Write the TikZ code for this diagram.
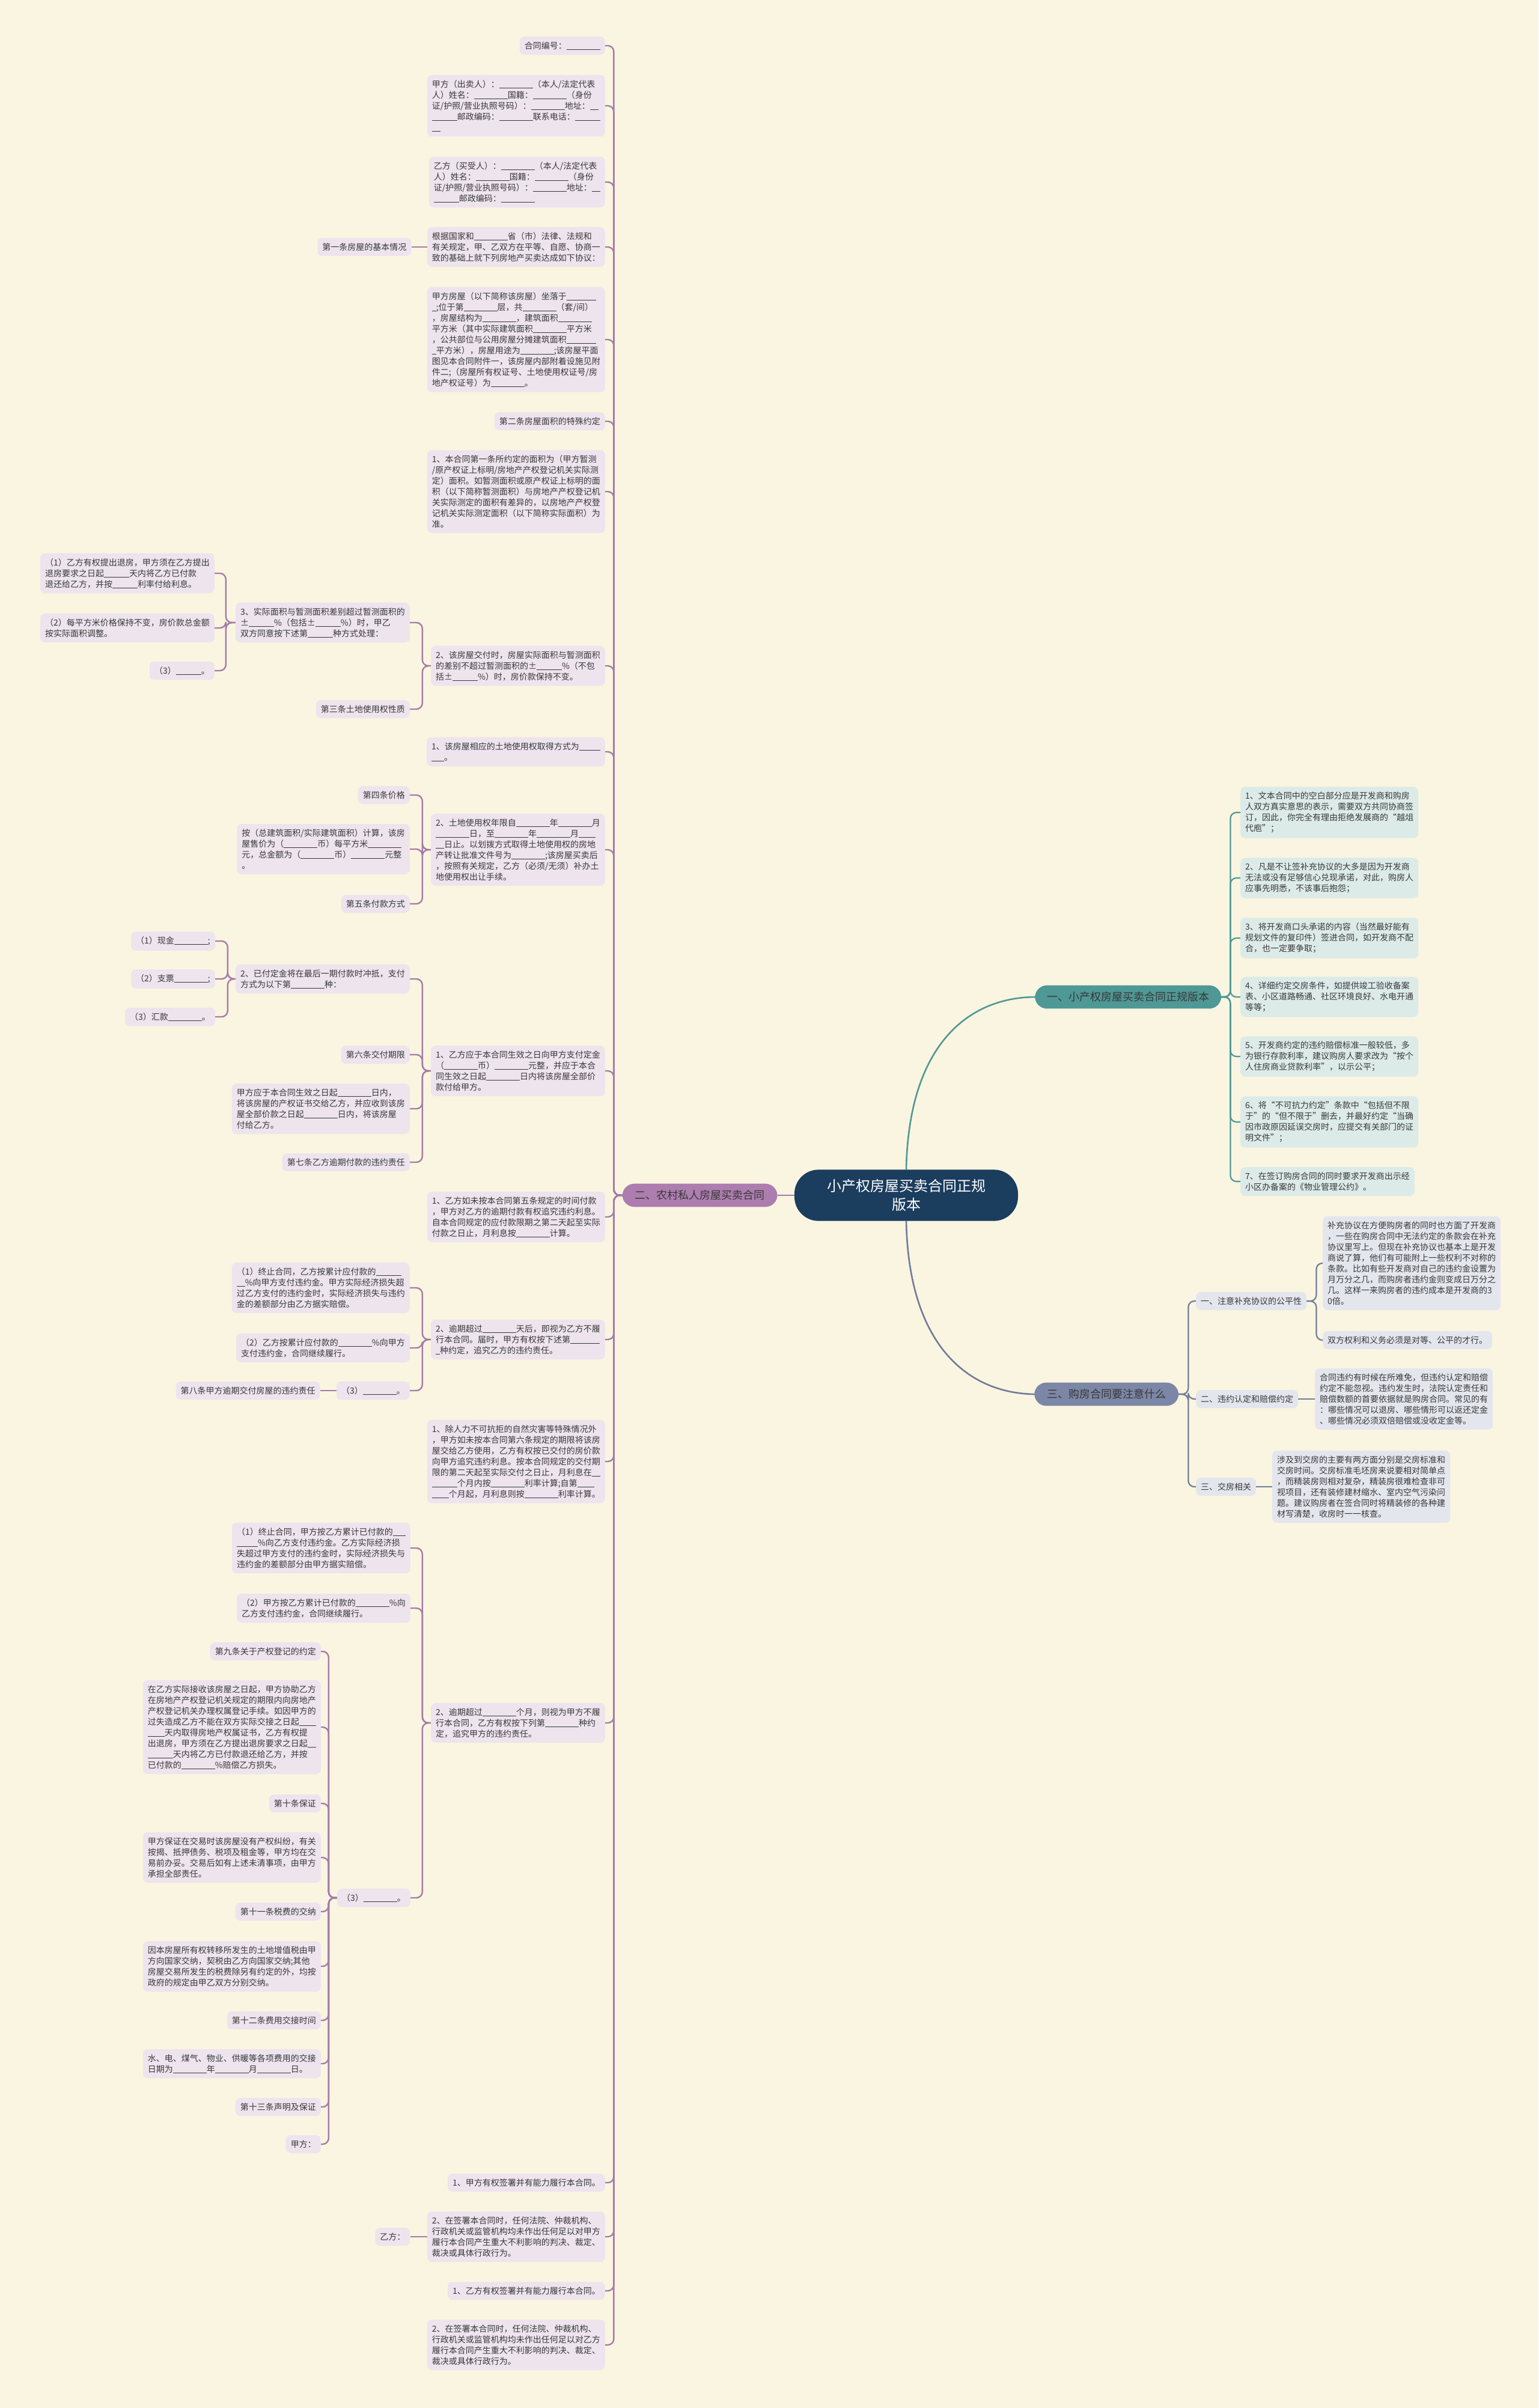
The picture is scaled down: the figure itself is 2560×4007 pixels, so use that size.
\documentclass[tikz,border=0pt]{standalone}
\usepackage{fontspec}
\setmainfont{Noto Sans CJK SC}
\usepackage{xcolor}
\usepackage{tikz}
\usetikzlibrary{positioning}

\definecolor{bgcream}{HTML}{FAF5E0}
\definecolor{rootblue}{HTML}{1B3D5E}
\definecolor{plum}{HTML}{AD7DAF}
\definecolor{plumline}{HTML}{A57BA8}
\definecolor{plumleaf}{HTML}{EDE4EE}
\definecolor{teal}{HTML}{4E9896}
\definecolor{tealleaf}{HTML}{DCEBE8}
\definecolor{slate}{HTML}{7C86A6}
\definecolor{slateline}{HTML}{6F7B98}
\definecolor{slateleaf}{HTML}{E4E6EE}
\definecolor{inkgray}{HTML}{383838}

% blank to be filled in
\newcommand{\bk}[1]{\rule[-0.12em]{#1em}{0.07em}}

\begin{document}
\begin{tikzpicture}[
    x=1pt, y=-1pt,
    root/.style={rectangle, rounded corners=40pt, fill=rootblue, text=white, align=center, inner xsep=54pt, inner ysep=16pt, font={\fontsize{24}{31}\selectfont}},
    branch/.style={rectangle, rounded corners=20pt, text=inkgray, align=center, inner xsep=21pt, inner ysep=11pt, font={\fontsize{18}{22}\selectfont}},
    leaf/.style={rectangle, rounded corners=8pt, fill=plumleaf, text=inkgray, align=left, inner xsep=8pt, inner ysep=8.5pt, font={\fontsize{14}{18}\selectfont}},
    tleaf/.style={leaf, fill=tealleaf},
    sleaf/.style={leaf, fill=slateleaf},
    link2/.style={draw=plumline, line width=2.4pt, rounded corners=10pt},
    link1/.style={draw=teal, line width=2.2pt, rounded corners=10pt},
    link3/.style={draw=slateline, line width=2.2pt, rounded corners=10pt},
]
    \fill[bgcream] (0,0) rectangle (2560,4007);
    \useasboundingbox (0,0) rectangle (2560,4007);

    \node[root] (ctr) at (1508,1989) {小产权房屋买卖合同正规\\版本};
    \node[branch, fill=plum, left=28pt of ctr] (b2) {二、农村私人房屋买卖合同};
    \node[branch, fill=teal, anchor=west, inner xsep=20pt] (b1) at (1722,1659) {一、小产权房屋买卖合同正规版本};
    \node[branch, fill=slate, anchor=west] (b3) at (1721,2320) {三、购房合同要注意什么};

    \draw[link2, line width=2.6pt] (ctr.west) -- (b2.east);
    \draw[teal, line width=2.6pt] (ctr.north) .. controls (1512,1740) and (1610,1660) .. (b1.west);
    \draw[slateline, line width=2.6pt] (ctr.south) .. controls (1512,2238) and (1610,2318) .. (b3.west);

    % branch one
    \node[tleaf, anchor=west] (r1) at (2064,1352) {1、文本合同中的空白部分应是开发商和购房\\人双方真实意思的表示，需要双方共同协商签\\订，因此，你完全有理由拒绝发展商的“越俎\\代庖”；};
    \node[tleaf, anchor=west] (r2) at (2064,1461) {2、凡是不让签补充协议的大多是因为开发商\\无法或没有足够信心兑现承诺，对此，购房人\\应事先明悉，不该事后抱怨；};
    \node[tleaf, anchor=west] (r3) at (2064,1561) {3、将开发商口头承诺的内容（当然最好能有\\规划文件的复印件）签进合同，如开发商不配\\合，也一定要争取；};
    \node[tleaf, anchor=west] (r4) at (2064,1659) {4、详细约定交房条件，如提供竣工验收备案\\表、小区道路畅通、社区环境良好、水电开通\\等等；};
    \node[tleaf, anchor=west] (r5) at (2064,1758) {5、开发商约定的违约赔偿标准一般较低，多\\为银行存款利率，建议购房人要求改为“按个\\人住房商业贷款利率”，以示公平；};
    \node[tleaf, anchor=west] (r6) at (2064,1867) {6、将“不可抗力约定”条款中“包括但不限\\于”的“但不限于”删去，并最好约定“当确\\因市政原因延误交房时，应提交有关部门的证\\明文件”；};
    \node[tleaf, anchor=west] (r7) at (2064,1966) {7、在签订购房合同的同时要求开发商出示经\\小区办备案的《物业管理公约》。};
    \foreach \c in {r1,r2,r3,r4,r5,r6,r7}
        \draw[link1] (b1.east) -- ++(15,0) |- (\c.west);

    % branch three
    \node[sleaf, anchor=west] (t1) at (1990,2165) {一、注意补充协议的公平性};
    \node[sleaf, anchor=west] (t2) at (1990,2328) {二、违约认定和赔偿约定};
    \node[sleaf, anchor=west] (t3) at (1990,2474) {三、交房相关};
    \node[sleaf, anchor=west] (t1a) at (2201,2102) {补充协议在方便购房者的同时也方面了开发商\\，一些在购房合同中无法约定的条款会在补充\\协议里写上。但现在补充协议也基本上是开发\\商说了算，他们有可能附上一些权利不对称的\\条款。比如有些开发商对自己的违约金设置为\\月万分之几，而购房者违约金则变成日万分之\\几。这样一来购房者的违约成本是开发商的3\\0倍。};
    \node[sleaf, anchor=west] (t1b) at (2201,2230) {双方权利和义务必须是对等、公平的才行。};
    \node[sleaf, anchor=west] (t2a) at (2188,2328) {合同违约有时候在所难免，但违约认定和赔偿\\约定不能忽视。违约发生时，法院认定责任和\\赔偿数额的首要依据就是购房合同。常见的有\\：哪些情况可以退房、哪些情形可以返还定金\\、哪些情况必须双倍赔偿或没收定金等。};
    \node[sleaf, anchor=west] (t3a) at (2117,2474) {涉及到交房的主要有两方面分别是交房标准和\\交房时间。交房标准毛坯房来说要相对简单点\\，而精装房则相对复杂，精装房很难检查非可\\视项目，还有装修建材缩水、室内空气污染问\\题。建议购房者在签合同时将精装修的各种建\\材写清楚，收房时一一核查。};
    \foreach \c in {t1,t2,t3}
        \draw[link3] (b3.east) -- ++(16,0) |- (\c.west);
    \draw[link3] (t1.east) -- ++(16,0) |- (t1a.west);
    \draw[link3] (t1.east) -- ++(16,0) |- (t1b.west);
    \draw[link3] (t2) -- (t2a);
    \draw[link3] (t3) -- (t3a);

    % branch two
    \node[leaf, anchor=east] (n01) at (1007,76) {合同编号：\bk{4}};
    \node[leaf, anchor=east] (n02) at (1007,176) {甲方（出卖人）：\bk{4}（本人/法定代表\\人）姓名：\bk{4}国籍：\bk{4}（身份\\证/护照/营业执照号码）：\bk{4}地址：\bk{1}\\\bk{3}邮政编码：\bk{4}联系电话：\bk{3}\\\bk{1}};
    \node[leaf, anchor=east] (n03) at (1007,303) {乙方（买受人）：\bk{4}（本人/法定代表\\人）姓名：\bk{4}国籍：\bk{4}（身份\\证/护照/营业执照号码）：\bk{4}地址：\bk{1}\\\bk{3}邮政编码：\bk{4}};
    \node[leaf, anchor=east] (n04) at (1007,411) {根据国家和\bk{4}省（市）法律、法规和\\有关规定，甲、乙双方在平等、自愿、协商一\\致的基础上就下列房地产买卖达成如下协议：};
    \node[leaf, anchor=east] (n05) at (1007,565) {甲方房屋（以下简称该房屋）坐落于\bk{3.5}\\\bk{0.5};位于第\bk{4}层，共\bk{4}（套/间）\\，房屋结构为\bk{4}，建筑面积\bk{4}\\平方米（其中实际建筑面积\bk{4}平方米\\，公共部位与公用房屋分摊建筑面积\bk{3.5}\\\bk{0.5}平方米），房屋用途为\bk{4};该房屋平面\\图见本合同附件一，该房屋内部附着设施见附\\件二;（房屋所有权证号、土地使用权证号/房\\地产权证号）为\bk{4}。};
    \node[leaf, anchor=east] (n06) at (1007,701) {第二条房屋面积的特殊约定};
    \node[leaf, anchor=east] (n07) at (1007,818) {1、本合同第一条所约定的面积为（甲方暂测\\/原产权证上标明/房地产产权登记机关实际测\\定）面积。如暂测面积或原产权证上标明的面\\积（以下简称暂测面积）与房地产产权登记机\\关实际测定的面积有差异的，以房地产产权登\\记机关实际测定面积（以下简称实际面积）为\\准。};
    \node[leaf, anchor=east] (n08) at (1007,1108) {2、该房屋交付时，房屋实际面积与暂测面积\\的差别不超过暂测面积的±\bk{3}\%（不包\\括±\bk{3}\%）时，房价款保持不变。};
    \node[leaf, anchor=east] (n09) at (1007,1251) {1、该房屋相应的土地使用权取得方式为\bk{2.5}\\\bk{1.5}。};
    \node[leaf, anchor=east] (n10) at (1007,1414) {2、土地使用权年限自\bk{4}年\bk{4}月\\\bk{4}日，至\bk{4}年\bk{4}月\bk{2}\\\bk{1}日止。以划拨方式取得土地使用权的房地\\产转让批准文件号为\bk{4};该房屋买卖后\\，按照有关规定，乙方（必须/无须）补办土\\地使用权出让手续。};
    \node[leaf, anchor=east] (n11) at (1007,1782) {1、乙方应于本合同生效之日向甲方支付定金\\（\bk{4}币）\bk{4}元整，并应于本合\\同生效之日起\bk{4}日内将该房屋全部价\\款付给甲方。};
    \node[leaf, anchor=east] (n12) at (1007,2025) {1、乙方如未按本合同第五条规定的时间付款\\，甲方对乙方的逾期付款有权追究违约利息。\\自本合同规定的应付款限期之第二天起至实际\\付款之日止，月利息按\bk{4}计算。};
    \node[leaf, anchor=east] (n13) at (1007,2229) {2、逾期超过\bk{4}天后，即视为乙方不履\\行本合同。届时，甲方有权按下述第\bk{3.5}\\\bk{0.5}种约定，追究乙方的违约责任。};
    \node[leaf, anchor=east] (n14) at (1007,2432) {1、除人力不可抗拒的自然灾害等特殊情况外\\，甲方如未按本合同第六条规定的期限将该房\\屋交给乙方使用，乙方有权按已交付的房价款\\向甲方追究违约利息。按本合同规定的交付期\\限的第二天起至实际交付之日止，月利息在\bk{1}\\\bk{3}个月内按\bk{4}利率计算;自第\bk{2}\\\bk{2}个月起，月利息则按\bk{4}利率计算。};
    \node[leaf, anchor=east] (n15) at (1007,2867) {2、逾期超过\bk{4}个月，则视为甲方不履\\行本合同，乙方有权按下列第\bk{4}种约\\定，追究甲方的违约责任。};
    \node[leaf, anchor=east] (n16) at (1007,3632) {1、甲方有权签署并有能力履行本合同。};
    \node[leaf, anchor=east] (n17) at (1007,3722) {2、在签署本合同时，任何法院、仲裁机构、\\行政机关或监管机构均未作出任何足以对甲方\\履行本合同产生重大不利影响的判决、裁定、\\裁决或具体行政行为。};
    \node[leaf, anchor=east] (n18) at (1007,3812) {1、乙方有权签署并有能力履行本合同。};
    \node[leaf, anchor=east] (n19) at (1007,3902) {2、在签署本合同时，任何法院、仲裁机构、\\行政机关或监管机构均未作出任何足以对乙方\\履行本合同产生重大不利影响的判决、裁定、\\裁决或具体行政行为。};
    \foreach \c in {n01,n02,n03,n04,n05,n06,n07,n08,n09,n10,n11,n12,n13,n14,n15,n16,n17,n18,n19}
        \draw[link2] (b2.west) -- ++(-14,0) |- (\c.east);

    \node[leaf, left=26pt of n04] (n04a) {第一条房屋的基本情况};
    \node[leaf, left=28pt of n17] (n17a) {乙方：};
    \draw[link2] (n04) -- (n04a);
    \draw[link2] (n17) -- (n17a);

    \node[leaf, anchor=east] (n08a) at (682,1036) {3、实际面积与暂测面积差别超过暂测面积的\\±\bk{3}\%（包括±\bk{3}\%）时，甲乙\\双方同意按下述第\bk{3}种方式处理：};
    \node[leaf, anchor=east] (n08b) at (682,1180) {第三条土地使用权性质};
    \node[leaf, anchor=east] (n08a1) at (357,954) {（1）乙方有权提出退房，甲方须在乙方提出\\退房要求之日起\bk{3}天内将乙方已付款\\退还给乙方，并按\bk{3}利率付给利息。};
    \node[leaf, anchor=east] (n08a2) at (357,1045) {（2）每平方米价格保持不变，房价款总金额\\按实际面积调整。};
    \node[leaf, anchor=east] (n08a3) at (357,1116) {（3）\bk{3}。};
    \foreach \c in {n08a,n08b}
        \draw[link2] (n08.west) -- ++(-14,0) |- (\c.east);
    \foreach \c in {n08a1,n08a2,n08a3}
        \draw[link2] (n08a.west) -- ++(-16,0) |- (\c.east);

    \node[leaf, anchor=east] (n10a) at (682,1323) {第四条价格};
    \node[leaf, anchor=east] (n10b) at (682,1413) {按（总建筑面积/实际建筑面积）计算，该房\\屋售价为（\bk{4}币）每平方米\bk{4}\\元，总金额为（\bk{4}币）\bk{4}元整\\。};
    \node[leaf, anchor=east] (n10c) at (682,1504) {第五条付款方式};
    \foreach \c in {n10a,n10b,n10c}
        \draw[link2] (n10.west) -- ++(-14,0) |- (\c.east);

    \node[leaf, anchor=east] (n11a) at (682,1629) {2、已付定金将在最后一期付款时冲抵，支付\\方式为以下第\bk{4}种：};
    \node[leaf, anchor=east] (n11b) at (682,1755) {第六条交付期限};
    \node[leaf, anchor=east] (n11c) at (682,1845) {甲方应于本合同生效之日起\bk{4}日内，\\将该房屋的产权证书交给乙方，并应收到该房\\屋全部价款之日起\bk{4}日内，将该房屋\\付给乙方。};
    \node[leaf, anchor=east] (n11d) at (682,1934) {第七条乙方逾期付款的违约责任};
    \node[leaf, anchor=east] (n11a1) at (358,1566) {（1）现金\bk{4};};
    \node[leaf, anchor=east] (n11a2) at (358,1629) {（2）支票\bk{4};};
    \node[leaf, anchor=east] (n11a3) at (358,1692) {（3）汇款\bk{4}。};
    \foreach \c in {n11a,n11b,n11c,n11d}
        \draw[link2] (n11.west) -- ++(-14,0) |- (\c.east);
    \foreach \c in {n11a1,n11a2,n11a3}
        \draw[link2] (n11a.west) -- ++(-13,0) |- (\c.east);

    \node[leaf, anchor=east] (n13a) at (682,2143) {（1）终止合同，乙方按累计应付款的\bk{3}\\\bk{1}\%向甲方支付违约金。甲方实际经济损失超\\过乙方支付的违约金时，实际经济损失与违约\\金的差额部分由乙方据实赔偿。};
    \node[leaf, anchor=east] (n13b) at (682,2243) {（2）乙方按累计应付款的\bk{4}\%向甲方\\支付违约金，合同继续履行。};
    \node[leaf, anchor=east] (n13c) at (682,2314) {（3）\bk{4}。};
    \node[leaf, left=27pt of n13c] (n13c1) {第八条甲方逾期交付房屋的违约责任};
    \foreach \c in {n13a,n13b,n13c}
        \draw[link2] (n13.west) -- ++(-14,0) |- (\c.east);
    \draw[link2] (n13c) -- (n13c1);

    \node[leaf, anchor=east] (n15a) at (683,2576) {（1）终止合同，甲方按乙方累计已付款的\bk{1.5}\\\bk{2.5}\%向乙方支付违约金。乙方实际经济损\\失超过甲方支付的违约金时，实际经济损失与\\违约金的差额部分由甲方据实赔偿。};
    \node[leaf, anchor=east] (n15b) at (683,2676) {（2）甲方按乙方累计已付款的\bk{4}\%向\\乙方支付违约金，合同继续履行。};
    \node[leaf, anchor=east] (n15c) at (683,3158) {（3）\bk{4}。};
    \foreach \c in {n15a,n15b,n15c}
        \draw[link2] (n15.west) -- ++(-14,0) |- (\c.east);

    \node[leaf, anchor=east] (n15c1) at (534,2748) {第九条关于产权登记的约定};
    \node[leaf, anchor=east] (n15c2) at (534,2874) {在乙方实际接收该房屋之日起，甲方协助乙方\\在房地产产权登记机关规定的期限内向房地产\\产权登记机关办理权属登记手续。如因甲方的\\过失造成乙方不能在双方实际交接之日起\bk{2}\\\bk{2}天内取得房地产权属证书，乙方有权提\\出退房，甲方须在乙方提出退房要求之日起\bk{1}\\\bk{3}天内将乙方已付款退还给乙方，并按\\已付款的\bk{4}\%赔偿乙方损失。};
    \node[leaf, anchor=east] (n15c3) at (534,3001) {第十条保证};
    \node[leaf, anchor=east] (n15c4) at (534,3091) {甲方保证在交易时该房屋没有产权纠纷，有关\\按揭、抵押债务、税项及租金等，甲方均在交\\易前办妥。交易后如有上述未清事项，由甲方\\承担全部责任。};
    \node[leaf, anchor=east] (n15c5) at (534,3181) {第十一条税费的交纳};
    \node[leaf, anchor=east] (n15c6) at (534,3272) {因本房屋所有权转移所发生的土地增值税由甲\\方向国家交纳，契税由乙方向国家交纳;其他\\房屋交易所发生的税费除另有约定的外，均按\\政府的规定由甲乙双方分别交纳。};
    \node[leaf, anchor=east] (n15c7) at (534,3362) {第十二条费用交接时间};
    \node[leaf, anchor=east] (n15c8) at (534,3434) {水、电、煤气、物业、供暖等各项费用的交接\\日期为\bk{4}年\bk{4}月\bk{4}日。};
    \node[leaf, anchor=east] (n15c9) at (534,3506) {第十三条声明及保证};
    \node[leaf, anchor=east] (n15c10) at (534,3568) {甲方：};
    \foreach \c in {n15c1,n15c2,n15c3,n15c4,n15c5,n15c6,n15c7,n15c8,n15c9,n15c10}
        \draw[link2] (n15c.west) -- ++(-14,0) |- (\c.east);
\end{tikzpicture}
\end{document}
